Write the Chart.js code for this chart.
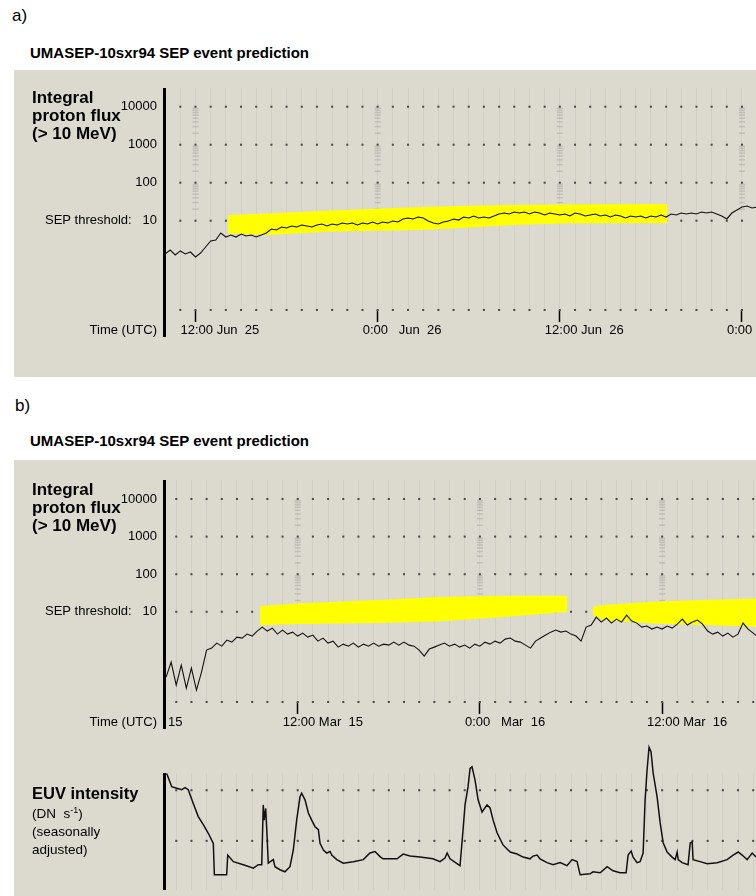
<!DOCTYPE html>
<html><head><meta charset="utf-8">
<script src="https://cdn.jsdelivr.net/npm/chart.js@4.4.0/dist/chart.umd.min.js"></script>
<style>
html,body{margin:0;padding:0;width:756px;height:896px;overflow:hidden;background:#fff;font-family:"Liberation Sans",Arial,sans-serif;color:#000;position:relative;}
.abs{position:absolute;white-space:pre;}
.panel{position:absolute;left:14px;width:900px;background:#dcdacf;}
canvas{position:absolute;left:0;}
sup{font-size:9px;line-height:0;}
</style></head><body>
<div class="abs" style="left:12px;top:6px;font-size:17px;line-height:20px;">a)</div>
<div class="abs" style="left:30px;top:43.5px;font-size:15px;font-weight:bold;line-height:18px;">UMASEP-10sxr94 SEP event prediction</div>
<div class="panel" style="top:70px;height:307px;"></div>
<canvas id="cA" width="900" height="307" style="top:70px"></canvas>
<div class="abs" style="left:32px;top:89px;font-size:17px;font-weight:bold;line-height:18px;">Integral<br>proton flux<br>(&gt; 10 MeV)</div>
<div class="abs" style="left:0;width:157px;text-align:right;top:322px;font-size:13px;line-height:15px;">Time (UTC)</div>

<div class="abs" style="left:15px;top:396px;font-size:17px;line-height:20px;">b)</div>
<div class="abs" style="left:30px;top:432px;font-size:15px;font-weight:bold;line-height:18px;">UMASEP-10sxr94 SEP event prediction</div>
<div class="panel" style="top:460px;height:436px;"></div>
<canvas id="cB" width="900" height="307" style="top:462px"></canvas>
<canvas id="cE" width="900" height="156" style="top:740px"></canvas>
<div class="abs" style="left:32px;top:481px;font-size:17px;font-weight:bold;line-height:18px;">Integral<br>proton flux<br>(&gt; 10 MeV)</div>
<div class="abs" style="left:0;width:157px;text-align:right;top:714px;font-size:13px;line-height:15px;">Time (UTC)</div>
<div class="abs" style="left:168px;top:714px;font-size:13px;line-height:15px;">15</div>
<div class="abs" style="left:32px;top:784px;font-size:16.5px;font-weight:bold;line-height:18px;">EUV intensity</div>
<div class="abs" style="left:32px;top:805px;font-size:13.5px;line-height:18px;">(DN&nbsp; s<sup>-1</sup>)<br>(seasonally<br>adjusted)</div>

<script>
// ---------- Panel a: >10 MeV integral proton flux (pfu), 20-min samples, hours after 0:00 Jun 25 ----------
const fluxA_start = 10.0;
const fluxA_step = 1/3;
const fluxA = [1.33,1.69,1.25,1.60,1.33,1.50,1.11,1.41,2.03,2.92,
 3.11,4.75,3.72,4.20,3.72,4.47,3.96,4.20,3.72,4.20,
 4.75,6.05,5.69,6.83,6.43,7.26,6.83,7.71,7.26,6.83,
 7.71,8.19,7.26,8.19,7.71,8.70,8.19,8.70,7.71,8.70,
 8.19,9.24,8.19,9.24,8.70,9.82,9.24,11.1,11.8,11.1,
 12.5,11.8,9.82,8.70,8.19,9.24,9.82,11.1,10.4,12.5,
 11.8,13.3,11.8,12.5,11.8,13.3,15.0,15.9,15.0,16.9,
 15.9,16.9,15.0,16.9,15.9,14.1,15.9,15.0,14.1,15.0,
 13.3,15.9,15.0,13.3,14.1,15.0,13.3,14.1,12.5,14.1,
 13.3,11.8,13.3,12.5,13.3,11.8,13.3,12.5,14.1,12.5,
 15.0,14.1,15.9,15.0,15.9,15.0,16.9,15.9,16.9,15.0,
 13.3,11.1,15.9,19.1,22.9,24.4,21.6,22.9];
// yellow prediction highlight (upper / lower edge, pfu)
const bandA_hours = [14.14, 16.71, 21.06, 26.79, 29.42, 32.92, 36.67, 43.06];
const bandA_upper = [14.1, 15.5, 18.5, 22.9, 24.4, 25.9, 26.7, 27.5];
const bandA_lower = [4.60, 4.20, 5.20, 5.69, 6.43, 7.71, 8.54, 8.70];
const ticksA_hours = [12, 24, 36, 48];
const ticksA_labels = ['12:00 Jun  25', '0:00   Jun  26', '12:00 Jun  26', '0:00   Jun  27'];

// ---------- Panel b: flux, hours after 0:00 Mar 15 ----------
const fluxB_start = 3.33;
const fluxB_step = 1/3;
const fluxB = [0.183,0.459,0.112,0.382,0.0935,0.318,0.0827,0.249,0.958,1.08,
 1.47,1.22,1.77,1.56,2.12,2.00,2.55,2.26,3.07,3.92,
 3.07,3.68,2.55,3.26,2.55,2.88,2.26,2.71,2.12,2.40,
 1.66,2.00,1.47,1.66,1.15,1.38,1.22,1.47,1.15,1.38,
 1.22,1.47,1.22,1.38,1.30,1.56,1.30,1.56,1.30,1.22,
 0.958,0.664,1.02,1.15,1.30,1.47,1.22,1.38,1.15,1.30,
 1.08,1.38,1.22,1.56,1.38,1.66,1.47,1.88,2.00,1.66,
 1.56,1.30,1.08,1.66,2.00,2.40,2.88,3.26,2.88,3.07,
 2.55,2.26,1.66,3.92,4.43,7.23,5.32,6.80,5.00,6.39,
 5.32,8.17,5.66,5.00,3.92,4.17,3.47,3.92,3.47,4.17,
 3.68,4.71,6.39,4.43,5.32,6.01,4.71,3.07,2.55,2.88,
 2.26,2.71,2.12,2.55,5.00,3.47,2.71,2.12];
const bandB1_hours = [9.52, 12.15, 17.42, 21.18, 25.52, 29.74];
const bandB1_upper = [14.2, 17.0, 20.5, 24.6, 26.6, 26.6];
const bandB1_lower = [4.43, 4.71, 5.00, 5.49, 7.23, 9.82];
const bandB2_hours = [31.45, 32.11, 35.40, 38.70, 42.45];
const bandB2_upper = [13.6, 15.1, 18.5, 20.5, 22.7];
const bandB2_lower = [8.17, 6.01, 4.91, 4.43, 3.99];
const ticksB_hours = [12, 24, 36, 48];
const ticksB_labels = ['12:00 Mar  15', '0:00   Mar  16', '12:00 Mar  16', '0:00   Mar  17'];

// ---------- Panel b: EUV intensity (relative units, seasonally adjusted) ----------
const euvHours = [3.37,3.70,4.03,4.36,4.58,4.79,5.12,5.45,5.78,6.11,6.44,6.51,7.32,7.39,7.76,8.42,9.08,9.40,9.63,9.73,
 9.79,9.89,9.96,10.06,10.39,10.50,10.83,11.16,11.49,11.71,11.93,12.15,12.26,12.48,12.70,12.92,13.14,13.36,13.47,13.69,
 13.91,14.13,14.24,14.57,15.00,15.66,16.32,16.76,17.09,17.42,17.62,18.54,18.94,19.40,20.06,20.91,21.37,21.70,21.84,22.03,
 22.49,22.69,22.89,23.02,23.22,23.35,23.48,23.68,23.88,24.14,24.47,24.67,24.87,25.13,25.52,25.99,26.45,26.84,27.30,27.50,
 27.77,27.96,28.42,28.82,29.28,29.74,30.07,30.40,30.60,31.26,31.45,31.92,32.38,32.77,33.23,33.63,33.76,33.96,34.09,34.35,
 34.55,34.75,34.88,35.01,35.14,35.27,35.41,35.67,35.87,36.07,36.33,36.66,36.86,36.99,37.06,37.32,37.71,37.85,37.98,38.04,
 38.50,38.97,39.63,40.28,40.68,41.01,41.27,41.60,41.93,42.19];
const euvValues = [2.33,2.07,2.04,2.01,2.05,2.01,1.74,1.48,1.32,1.15,0.95,0.33,0.33,0.72,0.59,0.53,0.46,0.53,0.53,1.71,
 1.41,1.64,1.22,0.56,0.63,0.49,0.43,0.39,0.49,0.82,1.41,1.87,1.94,1.81,1.55,1.41,1.28,1.22,0.95,0.82,
 0.76,0.79,0.72,0.63,0.56,0.59,0.63,0.76,0.79,0.69,0.645,0.645,0.74,0.70,0.68,0.645,0.59,0.66,0.76,0.645,
 0.55,0.51,1.22,1.71,2.07,2.43,2.46,2.20,1.81,1.57,1.71,1.65,1.41,1.16,0.92,0.78,0.74,0.68,0.645,0.70,
 0.72,0.645,0.57,0.53,0.57,0.51,0.63,0.59,0.33,0.35,0.39,0.37,0.49,0.41,0.37,0.37,0.72,0.80,0.68,0.57,
 0.59,0.76,1.81,2.40,2.85,2.76,2.34,1.87,1.36,0.96,0.78,0.68,0.63,0.78,0.63,0.57,0.53,0.96,0.98,0.63,
 0.59,0.55,0.57,0.63,0.72,0.78,0.72,0.63,0.76,0.68];
const euvGridLevels = [1, 2];

// ---------- shared axis settings ----------
const fluxTickValues = [10, 100, 1000, 10000];
const fluxTickLabels = ['SEP threshold:   10', '100', '1000', '10000'];
const minorFactors = [2,3,4,5,6,7,8,9];
const minorDecades = [10, 100, 1000];

const FONT = '"Liberation Sans", Arial, sans-serif';
Chart.defaults.font.family = FONT;

const axisLine = {
  id: 'axisLine',
  afterDraw(chart, args, opts) {
    const {ctx, chartArea} = chart;
    ctx.save();
    ctx.strokeStyle = '#000';
    ctx.lineWidth = 3;
    ctx.beginPath();
    const x = chartArea.left - 1.5;
    ctx.moveTo(x, chartArea.top);
    ctx.lineTo(x, chartArea.bottom + (opts.extend || 0));
    ctx.stroke();
    ctx.restore();
  }
};

function hourRange(min, max) { const out = []; for (let h = Math.ceil(min); h <= Math.floor(max); h++) out.push(h); return out; }
function series(start, step, vals) { return vals.map((v, i) => ({x: start + i * step, y: v})); }
function pairs(xs, ys) { return xs.map((x, i) => ({x: x, y: ys[i]})); }
function dotGrid(hours, levels) { const p = []; levels.forEach(l => hours.forEach(h => p.push({x: h, y: l}))); return p; }
function minorMarks(hours) { const p = []; hours.forEach(h => minorDecades.forEach(d => minorFactors.forEach(k => p.push({x: h, y: k * d})))); return p; }

function xScale(min, max, tickHours, tickLabels, showLabels, height) {
  const hours = hourRange(min, max);
  return {
    type: 'linear', min: min, max: max,
    afterBuildTicks: s => { s.ticks = hours.map(v => ({value: v})); },
    afterFit: s => { s.height = height; },
    border: {display: false},
    grid: {
      color: 'rgba(0,0,0,0.045)', lineWidth: 1,
      drawTicks: showLabels, tickLength: 12, tickWidth: 1.5,
      tickColor: c => (c.tick && tickHours.includes(c.tick.value)) ? '#000' : 'rgba(0,0,0,0)'
    },
    ticks: {
      display: showLabels, autoSkip: false, maxRotation: 0, minRotation: 0,
      align: 'start', labelOffset: -15, padding: 1, color: '#000',
      font: {size: 13, family: FONT},
      callback: v => { const i = tickHours.indexOf(v); return i >= 0 ? tickLabels[i] : ''; }
    }
  };
}

function fluxChart(id, c) {
  const hours = hourRange(c.xmin, c.xmax);
  const ds = [{
    data: series(c.start, c.step, c.values), borderColor: '#111', borderWidth: 1.1,
    pointRadius: 0, fill: false, order: 0, tension: 0
  }];
  c.bands.forEach(b => {
    ds.push({data: pairs(b.hours, b.lower), borderWidth: 0, borderColor: 'rgba(0,0,0,0)', pointRadius: 0, fill: false, order: 1});
    ds.push({data: pairs(b.hours, b.upper), borderWidth: 0, borderColor: 'rgba(0,0,0,0)', pointRadius: 0, fill: '-1', backgroundColor: '#ffff00', order: 1});
  });
  ds.push({data: dotGrid(hours, fluxTickValues.concat([c.ymin])), showLine: false, pointStyle: 'rect',
    pointRadius: 1.45, backgroundColor: '#4a4a4a', borderWidth: 0, order: 2, clip: false});
  ds.push({data: minorMarks(c.tickHours.filter(h => h > c.xmin && h < c.xmax)), showLine: false, pointStyle: 'line',
    pointRadius: 3, borderColor: 'rgba(150,150,150,0.4)', borderWidth: 1.5, order: 3});
  return new Chart(document.getElementById(id), {
    type: 'line',
    data: {datasets: ds},
    plugins: [axisLine],
    options: {
      responsive: false, animation: false, events: [],
      layout: {padding: {top: 18, right: 10, bottom: 0, left: 0}},
      plugins: {legend: {display: false}, tooltip: {enabled: false}, axisLine: {extend: 27}},
      scales: {
        x: xScale(c.xmin, c.xmax, c.tickHours, c.tickLabels, true, 67),
        y: {
          type: 'logarithmic', min: c.ymin, max: c.ymax,
          afterBuildTicks: s => { s.ticks = fluxTickValues.map(v => ({value: v})); },
          afterFit: s => { s.width = 166; },
          border: {display: false}, grid: {display: false, drawTicks: false},
          ticks: {padding: 9, color: '#000', font: {size: 13, family: FONT},
            callback: v => { const i = fluxTickValues.indexOf(v); return i >= 0 ? fluxTickLabels[i] : ''; }}
        }
      }
    }
  });
}

fluxChart('cA', {
  xmin: 10.057, xmax: 57.75, ymin: 0.04467, ymax: 31046,
  start: fluxA_start, step: fluxA_step, values: fluxA,
  bands: [{hours: bandA_hours, upper: bandA_upper, lower: bandA_lower}],
  tickHours: ticksA_hours, tickLabels: ticksA_labels
});

fluxChart('cB', {
  xmin: 3.324, xmax: 51.01, ymin: 0.0399, ymax: 31989,
  start: fluxB_start, step: fluxB_step, values: fluxB,
  bands: [{hours: bandB1_hours, upper: bandB1_upper, lower: bandB1_lower},
          {hours: bandB2_hours, upper: bandB2_upper, lower: bandB2_lower}],
  tickHours: ticksB_hours, tickLabels: ticksB_labels
});

// EUV chart
(function () {
  const xmin = 3.324, xmax = 51.01;
  const hours = hourRange(xmin, xmax);
  new Chart(document.getElementById('cE'), {
    type: 'line',
    data: {datasets: [
      {data: pairs(euvHours, euvValues), borderColor: '#111', borderWidth: 1.5, pointRadius: 0, fill: false, order: 0, clip: false, tension: 0},
      {data: dotGrid(hours, euvGridLevels), showLine: false, pointStyle: 'rect', pointRadius: 1.45,
        backgroundColor: '#4a4a4a', borderWidth: 0, order: 2, clip: false}
    ]},
    plugins: [axisLine],
    options: {
      responsive: false, animation: false, events: [],
      layout: {padding: {top: 33, right: 10, bottom: 6, left: 0}},
      plugins: {legend: {display: false}, tooltip: {enabled: false}, axisLine: {extend: 0}},
      scales: {
        x: xScale(xmin, xmax, [], [], false, 0),
        y: {
          type: 'linear', min: 0.03, max: 2.34,
          afterBuildTicks: s => { s.ticks = euvGridLevels.map(v => ({value: v})); },
          afterFit: s => { s.width = 166; },
          border: {display: false}, grid: {display: false, drawTicks: false},
          ticks: {display: false}
        }
      }
    }
  });
})();
</script>
</body></html>
